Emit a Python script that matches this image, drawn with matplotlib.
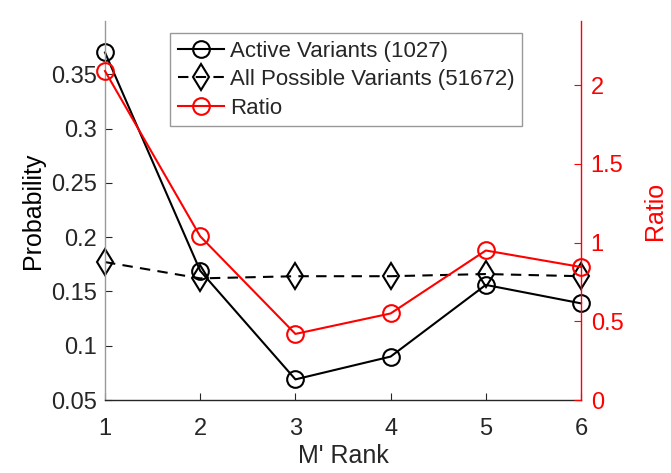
import matplotlib
matplotlib.use("Agg")
import matplotlib.pyplot as plt

plt.rcParams['font.family'] = ['Liberation Sans', 'DejaVu Sans']

rank = [1, 2, 3, 4, 5, 6]
active = [0.370, 0.169, 0.069, 0.090, 0.156, 0.139]
all_possible = [0.177, 0.162, 0.164, 0.164, 0.166, 0.164]
ratio = [2.09, 1.04, 0.42, 0.55, 0.95, 0.845]

label_active = 'Active Variants (1027)'
label_all = 'All Possible Variants (51672)'
label_ratio = 'Ratio'

left_ticks = [0.05, 0.1, 0.15, 0.2, 0.25, 0.3, 0.35]
left_ticklabels = ['0.05', '0.1', '0.15', '0.2', '0.25', '0.3', '0.35']
right_ticks = [0, 0.5, 1, 1.5, 2]
right_ticklabels = ['0', '0.5', '1', '1.5', '2']

dark = (0.15, 0.15, 0.15)
red = (1.0, 0.0, 0.0)

fig = plt.figure(figsize=(6.71, 4.73), dpi=100)
ax = fig.add_axes([0.1565, 0.1543, 0.7094, 0.8013])
ax2 = ax.twinx()

l1, = ax.plot(rank, active, '-', color='k', lw=1.5, marker='o', ms=12,
              mfc='none', mec='k', mew=1.5, clip_on=False, label=label_active)
l2, = ax.plot(rank, all_possible, '--', color='k', lw=1.5, marker='d', ms=13,
              mfc='none', mec='k', mew=1.5, dashes=(5, 3.5), clip_on=False,
              label=label_all)
l3, = ax2.plot(rank, ratio, '-', color=red, lw=1.5, marker='o', ms=12,
               mfc='none', mec=red, mew=1.5, clip_on=False, label=label_ratio)

ax.set_xlim(1, 6)
ax.set_ylim(0.05, 0.399)
ax2.set_ylim(0, 2.408)
ax.set_xticks(rank)
ax.set_xticklabels([str(r) for r in rank])
ax.set_yticks(left_ticks)
ax.set_yticklabels(left_ticklabels)
ax2.set_yticks(right_ticks)
ax2.set_yticklabels(right_ticklabels)

for a in (ax, ax2):
    a.spines['top'].set_visible(False)
    a.set_facecolor('none')
ax.spines['right'].set_visible(False)
ax2.spines['left'].set_visible(False)
ax2.spines['bottom'].set_visible(False)
ax.spines['left'].set_color((0.6, 0.6, 0.6))
ax.spines['bottom'].set_color(dark)
ax2.spines['right'].set_color(red)
for s in ('left', 'bottom'):
    ax.spines[s].set_linewidth(1.0)
ax2.spines['right'].set_linewidth(1.0)

ax.tick_params(axis='both', direction='in', length=5, width=0.8,
               colors=dark, labelsize=17, pad=6)
ax.tick_params(axis='x', pad=13)
ax2.tick_params(axis='y', direction='in', length=5, width=0.8,
                colors=red, labelsize=17, pad=7)

ax.set_xlabel("M' Rank", fontsize=18, color=dark, labelpad=3)
ax.set_ylabel('Probability', fontsize=18, color='k', labelpad=4)
ax2.set_ylabel('Ratio', fontsize=18, color=red, labelpad=14)

leg = ax2.legend(handles=[l1, l2, l3], loc='upper left',
                 bbox_to_anchor=(0.1366, 0.968), fontsize=16,
                 frameon=True, fancybox=False, handlelength=2.1,
                 handletextpad=0.25, borderpad=0.35, labelspacing=0.33,
                 borderaxespad=0)
leg.get_frame().set_edgecolor((0.5, 0.5, 0.5))
leg.get_frame().set_linewidth(1.0)
for t in leg.get_texts():
    t.set_color(dark)

fig.savefig('out.png', dpi=100, facecolor='white')
